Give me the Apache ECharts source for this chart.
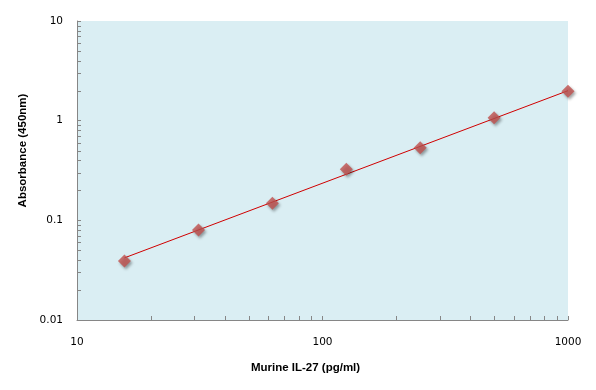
<!DOCTYPE html>
<html>
<head>
<meta charset="utf-8">
<script src="https://cdn.jsdelivr.net/npm/echarts@6/dist/echarts.min.js"></script>
<style>
  html, body { margin: 0; padding: 0; background: #fff; }
  #chart { width: 596px; height: 390px; }
</style>
</head>
<body>
<div id="chart"></div>
<script>
// standard curve points
const concentrations = [15.6, 31.25, 62.5, 125, 250, 500, 1000];
const absorbance = [0.039, 0.080, 0.148, 0.325, 0.535, 1.07, 1.97];

// power trend line
const trendX = [15.6, 1000];
const trendY = [0.042, 2.0];

// minor tick positions (2..9 of each decade)
const xMinorTicks = [20, 30, 40, 50, 60, 70, 80, 90, 200, 300, 400, 500, 600, 700, 800, 900];
const yMinorTicks = [0.02, 0.03, 0.04, 0.05, 0.06, 0.07, 0.08, 0.09,
    0.2, 0.3, 0.4, 0.5, 0.6, 0.7, 0.8, 0.9, 2, 3, 4, 5, 6, 7, 8, 9];

const axisGray = '#868686';
const labelFont = { color: '#000', fontFamily: 'DejaVu Sans', fontSize: 10.5 };
const titleFont = { color: '#000', fontFamily: 'Liberation Sans', fontWeight: 'bold', fontSize: 11.5 };

const chart = echarts.init(document.getElementById('chart'));

const option = {
    animation: false,
    grid: {
        left: 77,
        right: 28,
        top: 21,
        bottom: 70,
        show: true,
        backgroundColor: '#DAEEF3',
        borderWidth: 0,
    },
    xAxis: {
        type: 'log',
        logBase: 10,
        min: 10,
        max: 1000,
        name: 'Murine IL-27 (pg/ml)',
        nameLocation: 'middle',
        nameGap: 42,
        nameTextStyle: { ...titleFont, padding: [0, 34, 0, 0] },
        axisLine: { show: true, lineStyle: { color: axisGray, width: 1 } },
        axisTick: { show: true, inside: true, length: 4, lineStyle: { color: axisGray } },
        axisLabel: { ...labelFont, margin: 17, formatter: v => String(v) },
        splitLine: { show: false },
    },
    yAxis: {
        type: 'log',
        logBase: 10,
        min: 0.01,
        max: 10,
        name: 'Absorbance (450nm)',
        nameLocation: 'middle',
        nameGap: 47,
        nameTextStyle: { ...titleFont, padding: [0, 0, 0, 40] },
        axisLine: { show: true, lineStyle: { color: axisGray, width: 1 } },
        axisTick: { show: true, inside: true, length: 4, lineStyle: { color: axisGray } },
        axisLabel: { ...labelFont, margin: 14, formatter: v => String(v) },
        splitLine: { show: false },
    },
    series: [
        {
            name: 'Trend',
            type: 'line',
            data: trendX.map((x, i) => [x, trendY[i]]),
            showSymbol: false,
            symbol: 'none',
            lineStyle: { color: '#D00000', width: 1 },
            silent: true,
            z: 2,
        },
        {
            name: 'Standard',
            type: 'scatter',
            data: concentrations.map((x, i) => [x, absorbance[i]]),
            symbol: 'diamond',
            symbolSize: [13, 13],
            itemStyle: {
                color: '#C0504D',
                shadowBlur: 3,
                shadowColor: 'rgba(0,0,0,0.45)',
                shadowOffsetX: 1.5,
                shadowOffsetY: 2,
            },
            z: 3,
        },
        {
            name: 'xMinor',
            type: 'custom',
            silent: true,
            data: xMinorTicks.map(v => [v, 1]),
            renderItem: (params, api) => {
                const cs = params.coordSys;
                const x = Math.round(api.coord([api.value(0), 1])[0]) + 0.5;
                const yb = cs.y + cs.height;
                return {
                    type: 'line',
                    shape: { x1: x, y1: yb, x2: x, y2: yb - 4 },
                    style: { stroke: axisGray, lineWidth: 1 },
                };
            },
            z: 4,
        },
        {
            name: 'yMinor',
            type: 'custom',
            silent: true,
            data: yMinorTicks.map(v => [100, v]),
            renderItem: (params, api) => {
                const cs = params.coordSys;
                const y = Math.round(api.coord([100, api.value(1)])[1]) + 0.5;
                return {
                    type: 'line',
                    shape: { x1: cs.x, y1: y, x2: cs.x + 4, y2: y },
                    style: { stroke: axisGray, lineWidth: 1 },
                };
            },
            z: 4,
        },
    ],
};

chart.setOption(option);
</script>
</body>
</html>
